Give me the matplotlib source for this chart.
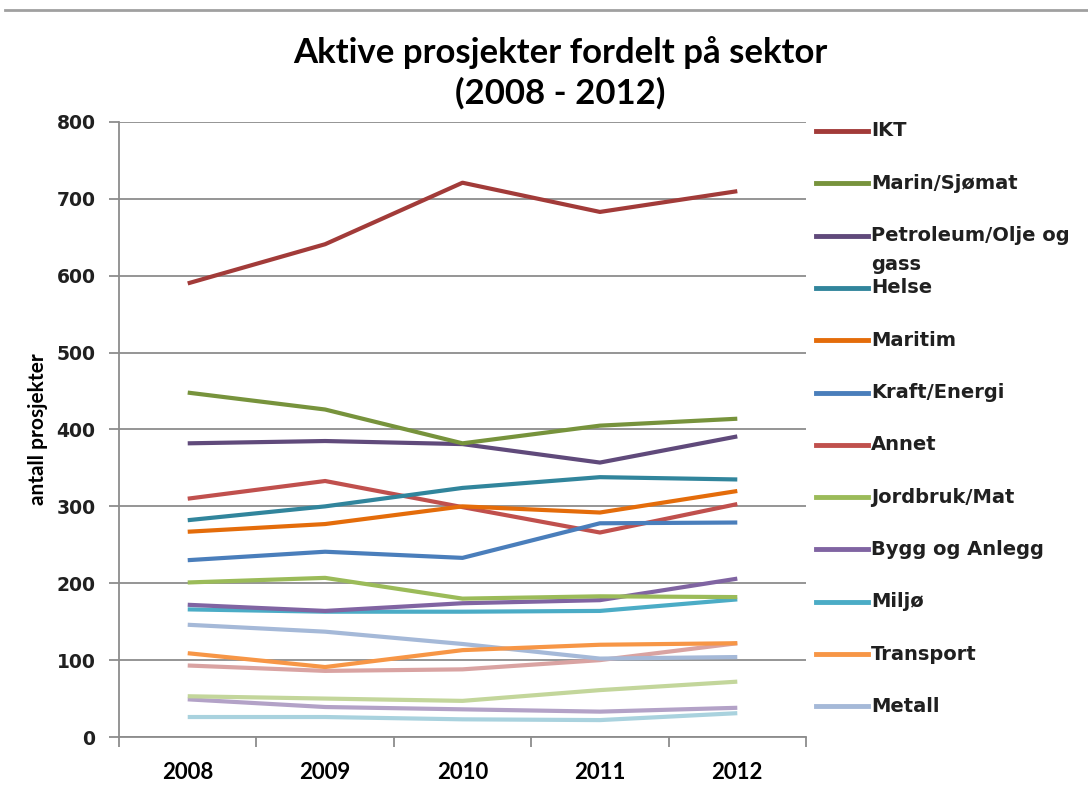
import matplotlib
matplotlib.use("Agg")
import matplotlib.pyplot as plt
from matplotlib.lines import Line2D

years = ["2008", "2009", "2010", "2011", "2012"]

# labelled series (legend order)
ikt = [590, 641, 721, 683, 710]
marin = [448, 426, 382, 405, 414]
petroleum = [382, 385, 381, 357, 391]
helse = [282, 300, 324, 338, 335]
maritim = [267, 277, 300, 292, 320]
kraft = [230, 241, 233, 278, 279]
annet = [310, 333, 299, 266, 303]
jordbruk = [201, 207, 180, 183, 182]
bygg = [172, 164, 174, 178, 206]
miljo = [166, 163, 163, 164, 179]
transport = [109, 91, 113, 120, 122]
metall = [146, 137, 121, 102, 104]
# series without a visible legend entry
extra1 = [93, 86, 88, 100, 122]
extra2 = [53, 50, 47, 61, 72]
extra3 = [49, 39, 36, 33, 38]
extra4 = [26, 26, 23, 22, 31]

labels = ["IKT", "Marin/Sjømat", "Petroleum/Olje og\ngass", "Helse", "Maritim",
          "Kraft/Energi", "Annet", "Jordbruk/Mat", "Bygg og Anlegg", "Miljø",
          "Transport", "Metall"]
series = [ikt, marin, petroleum, helse, maritim, kraft, annet, jordbruk, bygg,
          miljo, transport, metall]
colors = ["#A23B39", "#77933C", "#604A7B", "#31859C", "#E46C0A", "#4A7EBB",
          "#C0504D", "#9BBB59", "#8064A2", "#4BACC6", "#F79646", "#A5B9D8"]
extra_series = [extra1, extra2, extra3, extra4]
extra_colors = ["#D9A3A2", "#C3D69B", "#B3A2C7", "#A9D2DE"]

narrow = ["Lato", "DejaVu Sans"]

fig = plt.figure(figsize=(10.88, 7.89), dpi=100)
ax = fig.add_axes([0.1094, 0.0659, 0.6314, 0.7795])

x = range(len(years))
for s, c in zip(extra_series[::-1], extra_colors[::-1]):
    ax.plot(x, s, color=c, lw=3, solid_capstyle="butt", zorder=2)
for s, c in zip(series[::-1], colors[::-1]):
    ax.plot(x, s, color=c, lw=3, solid_capstyle="butt", zorder=3)

ax.set_xlim(-0.5, len(years) - 0.5)
ax.set_ylim(0, 800)
ax.set_yticks(range(0, 801, 100))
ax.yaxis.grid(True, color="#8C8C8C", lw=1.3)
ax.set_axisbelow(True)
ax.set_xticks([i - 0.5 for i in range(len(years) + 1)])
ax.set_xticklabels([])
ax.set_xticks(list(x), minor=True)
ax.set_xticklabels(years, minor=True, family=narrow, fontsize=16, fontweight="bold")
ax.tick_params(axis="x", which="minor", length=0, pad=18)
ax.tick_params(axis="x", which="major", length=7, width=1.3, color="#8C8C8C", direction="out")
ax.tick_params(axis="y", length=7, width=1.3, color="#8C8C8C", pad=10)
for t in ax.get_yticklabels():
    t.set_fontsize(13.5)
    t.set_fontweight("bold")
    t.set_color("#202020")
for side in ["top", "right"]:
    ax.spines[side].set_visible(False)
for side in ["left", "bottom"]:
    ax.spines[side].set_color("#8C8C8C")
    ax.spines[side].set_linewidth(1.3)

ax.set_ylabel("antall prosjekter", family=narrow, fontsize=15, fontweight="bold", labelpad=6)

fig.text(0.515, 0.908, "Aktive prosjekter fordelt på sektor\n(2008 - 2012)",
         ha="center", va="center", family=narrow, fontsize=25, fontweight="bold",
         linespacing=1.3)

# manual legend, reproducing the original's spacing
for i, (lab, c) in enumerate(zip(labels, colors)):
    yy = 1 - (131 + i * 52.3) / 789
    fig.add_artist(Line2D([816 / 1088, 868 / 1088], [yy, yy], color=c, lw=3.5))
    fig.text(871 / 1088, yy, lab.split("\n")[0], va="center", ha="left",
             fontsize=14, fontweight="bold", color="#202020")
    if "\n" in lab:
        fig.text(871 / 1088, yy - 29 / 789, lab.split("\n")[1], va="center", ha="left",
                 fontsize=14, fontweight="bold", color="#202020")

# page separator line at the top
fig.add_artist(Line2D([5 / 1088, 1], [1 - 10 / 789, 1 - 10 / 789], color="#A0A0A0", lw=2))

fig.savefig("out.png", dpi=100)
